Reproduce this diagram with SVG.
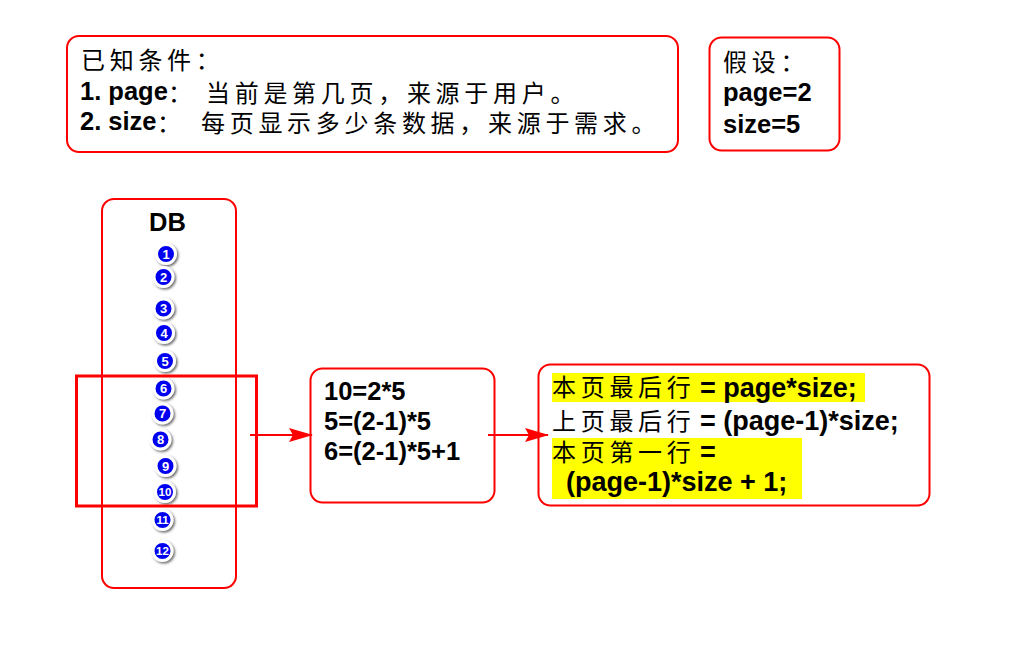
<svg xmlns="http://www.w3.org/2000/svg" width="1024" height="652" viewBox="0 0 1024 652">
<style>
.box{fill:#fff;stroke:#f00;stroke-width:2}
.zh{font-family:"Noto Sans CJK SC","Noto Sans",sans-serif;font-size:24px;letter-spacing:4.7px;fill:#000}
.en{font-family:"Liberation Sans",Arial,sans-serif;font-weight:bold;font-size:25.5px;fill:#000}
.en27{font-family:"Liberation Sans",Arial,sans-serif;font-weight:bold;font-size:27px;fill:#000}
.ball{fill:#0000f0;stroke:#fff;stroke-width:3;filter:url(#sh)}
.num{font-family:"Liberation Sans",Arial,sans-serif;font-weight:bold;font-size:13px;fill:#fff;text-anchor:middle}
.n2{font-size:11.5px}
.hl{fill:#ffff00}
.conn{stroke:#f00;stroke-width:2;fill:none;marker-end:url(#arr)}
</style>
<defs>
<filter id="sh" x="-50%" y="-50%" width="200%" height="200%">
<feDropShadow dx="1.5" dy="1.5" stdDeviation="1.3" flood-color="#444" flood-opacity="0.8"/>
</filter>
<marker id="arr" markerUnits="userSpaceOnUse" viewBox="0 0 24 14" refX="23" refY="7" markerWidth="24" markerHeight="14" orient="auto">
<path d="M0,0 L24,7 L0,14 L4,7 z" fill="#f00"/>
</marker>
</defs>
<rect width="1024" height="652" fill="#fff"/>

<g id="known">
<rect class="box" x="67" y="36" width="611" height="116" rx="12"/>
<text class="zh" x="81" y="69">已知条件：</text>
<text class="en" x="80" y="100">1. page</text>
<text class="zh" x="168" y="102">：</text>
<text class="zh" x="206" y="102">当前是第几页，来源于用户。</text>
<text class="en" x="80" y="130">2. size</text>
<text class="zh" x="157" y="132">：</text>
<text class="zh" x="201" y="132">每页显示多少条数据，来源于需求。</text>
</g>

<g id="assume">
<rect class="box" x="709.5" y="37.5" width="130" height="113" rx="12"/>
<text class="zh" x="723" y="71">假设：</text>
<text class="en" x="723" y="101">page=2</text>
<text class="en" x="723" y="133">size=5</text>
</g>

<g id="db">
<rect class="box" x="102" y="199" width="134" height="389" rx="12"/>
<text class="en" x="167.5" y="231" text-anchor="middle" font-size="26">DB</text>
<g id="rows">
<circle class="ball" cx="166" cy="254" r="9.5"/><text class="num" x="166" y="258.5">1</text>
<circle class="ball" cx="163.5" cy="277" r="9.5"/><text class="num" x="163.5" y="281.5">2</text>
<circle class="ball" cx="163.5" cy="308.5" r="9.5"/><text class="num" x="163.5" y="313">3</text>
<circle class="ball" cx="164" cy="333" r="9.5"/><text class="num" x="164" y="337.5">4</text>
<circle class="ball" cx="165" cy="361" r="9.5"/><text class="num" x="165" y="365.5">5</text>
<circle class="ball" cx="163.5" cy="388.5" r="9.5"/><text class="num" x="163.5" y="393">6</text>
<circle class="ball" cx="162.5" cy="413.5" r="9.5"/><text class="num" x="162.5" y="418">7</text>
<circle class="ball" cx="160.5" cy="439.5" r="9.5"/><text class="num" x="160.5" y="444">8</text>
<circle class="ball" cx="165.5" cy="466" r="9.5"/><text class="num" x="165.5" y="470.5">9</text>
<circle class="ball" cx="165" cy="492" r="9.5"/><text class="num n2" x="165" y="496">10</text>
<circle class="ball" cx="162.5" cy="520" r="9.5"/><text class="num n2" x="162.5" y="524">11</text>
<circle class="ball" cx="162.5" cy="551" r="9.5"/><text class="num n2" x="162.5" y="555">12</text>
</g>
</g>

<g id="selection">
<rect x="76.5" y="376" width="180" height="130" fill="none" stroke="#f00" stroke-width="3"/>
</g>

<g id="calc">
<rect class="box" x="310.5" y="368.5" width="184" height="134" rx="12"/>
<text class="en" x="324" y="400">10=2*5</text>
<text class="en" x="324" y="430">5=(2-1)*5</text>
<text class="en" x="324" y="460">6=(2-1)*5+1</text>
</g>

<g id="formula">
<rect class="box" x="538.5" y="364.5" width="391" height="141" rx="12"/>
<rect class="hl" x="552" y="373" width="313" height="29"/>
<rect class="hl" x="552" y="438" width="250" height="61"/>
<text class="zh" x="552" y="396" letter-spacing="4">本页最后行</text>
<text class="en27" x="700" y="397">= page*size;</text>
<text class="zh" x="552" y="430" letter-spacing="4">上页最后行</text>
<text class="en27" x="700" y="430">= (page-1)*size;</text>
<text class="zh" x="552" y="461" letter-spacing="4">本页第一行</text>
<text class="en27" x="700" y="461">=</text>
<text class="en27" x="566" y="491">(page-1)*size + 1;</text>
</g>

<g id="connectors">
<line class="conn" x1="250" y1="435" x2="312" y2="435"/>
<line class="conn" x1="488" y1="435" x2="548" y2="435"/>
</g>
</svg>
